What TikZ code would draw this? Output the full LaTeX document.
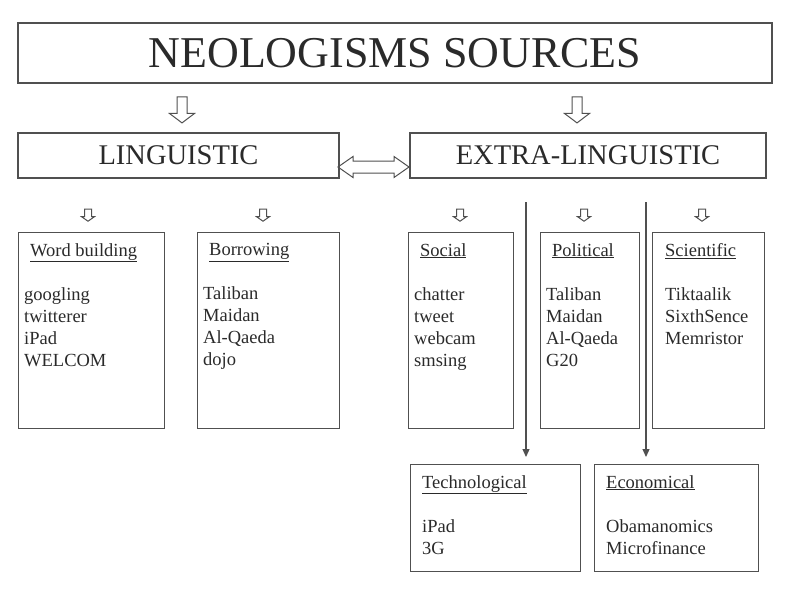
\documentclass[tikz,border=0pt]{standalone}
\usepackage{fontspec}
\setmainfont{Liberation Serif}
\usetikzlibrary{arrows.meta, positioning, shapes.arrows}
\definecolor{grisLinea}{HTML}{505050}
\definecolor{grisTexto}{HTML}{2A2A2A}
\tikzset{
  cajaBase/.style={draw=grisLinea, line width=1.4pt, inner sep=0pt, text=grisTexto},
  cajaTitulo/.style={cajaBase, minimum width=754pt, minimum height=60pt,
    font=\fontsize{44}{48}\selectfont},
  cajaRama/.style={cajaBase, minimum height=45pt, font=\fontsize{28.5}{32}\selectfont},
  cajaLista/.style={cajaBase, anchor=north west},
  textoLista/.style={anchor=north west, align=left, inner sep=0pt, text=grisTexto,
    font=\fontsize{18.5}{22}\selectfont},
  flechaHueca/.style={single arrow, draw=grisLinea, line width=1pt, inner sep=4.5pt,
    shape border rotate=270, minimum height=26pt,
    single arrow head extend=7.5pt, single arrow tip angle=106},
  flechaChica/.style={flechaHueca, inner sep=3pt, minimum height=12pt,
    single arrow head extend=3pt, single arrow tip angle=110},
  flechaDobleHueca/.style={double arrow, draw=grisLinea, line width=1pt, inner sep=5.5pt,
    minimum height=71pt, double arrow head extend=4.5pt,
    double arrow tip angle=70},
  flecha/.style={-{Triangle[length=8pt, width=7pt]}, line width=1.2pt, grisLinea},
}
\newcommand{\cabecera}[1]{\underline{#1}\\[22pt]}

\begin{document}
\begin{tikzpicture}[x=1pt, y=-1pt]
    \useasboundingbox (0,0) rectangle (800,600);
    \node[cajaTitulo] (fuentes) at (395,53) {NEOLOGISMS SOURCES};
    \node[cajaRama, minimum width=321pt] (ling) at (178.5,155.5) {LINGUISTIC};
    \node[cajaRama, minimum width=356pt] (extra) at (588,155.5) {EXTRA-LINGUISTIC};

    \node[flechaHueca] (flLing) at (182,108) {};
    \node[flechaHueca] (flExtra) at (577,108) {};
    \node[flechaDobleHueca] (flDoble) at (373.5,167) {};

    % categories
    \node[cajaLista, minimum width=146pt, minimum height=196pt] (palabra) at (18,232) {};
    \node[cajaLista, minimum width=142pt, minimum height=196pt] (prestamo) at (197,232) {};
    \node[cajaLista, minimum width=105pt, minimum height=196pt] (social) at (408,232) {};
    \node[cajaLista, minimum width=99pt, minimum height=196pt] (politico) at (540,232) {};
    \node[cajaLista, minimum width=112pt, minimum height=196pt] (cientifico) at (652,232) {};
    \node[cajaLista, minimum width=170pt, minimum height=107pt] (tecno) at (410,464) {};
    \node[cajaLista, minimum width=164pt, minimum height=107pt] (econ) at (594,464) {};

    \foreach \x/\n in {88/palabra, 263/prestamo, 460/social, 584/politico, 702/cientifico}
      \node[flechaChica] (fl\n) at (\x,214) {};

    \node[textoLista] (tPalabra) at ([shift={(6,11)}]palabra.north west)
      {\hspace*{6pt}\cabecera{Word building}googling\\twitterer\\iPad\\WELCOM};
    \node[textoLista] (tPrestamo) at ([shift={(6,11)}]prestamo.north west)
      {\hspace*{6pt}\cabecera{Borrowing}Taliban\\Maidan\\Al-Qaeda\\dojo};
    \node[textoLista] (tSocial) at ([shift={(6,11)}]social.north west)
      {\hspace*{6pt}\cabecera{Social}chatter\\tweet\\webcam\\smsing};
    \node[textoLista] (tPolitico) at ([shift={(6,11)}]politico.north west)
      {\hspace*{6pt}\cabecera{Political}Taliban\\Maidan\\Al-Qaeda\\G20};
    \node[textoLista] (tCientifico) at ([shift={(13,11)}]cientifico.north west)
      {\cabecera{Scientific}Tiktaalik\\SixthSence\\Memristor};
    \node[textoLista] (tTecno) at ([shift={(12,11)}]tecno.north west)
      {\cabecera{Technological}iPad\\3G};
    \node[textoLista] (tEcon) at ([shift={(12,11)}]econ.north west)
      {\cabecera{Economical}Obamanomics\\Microfinance};

    \coordinate (inicioTecno) at (526,202);
    \coordinate (inicioEcon) at (646,202);
    \draw[flecha, shorten >=7pt] (inicioTecno) -- (inicioTecno |- tecno.north);
    \draw[flecha, shorten >=7pt] (inicioEcon) -- (inicioEcon |- econ.north);
\end{tikzpicture}
\end{document}
